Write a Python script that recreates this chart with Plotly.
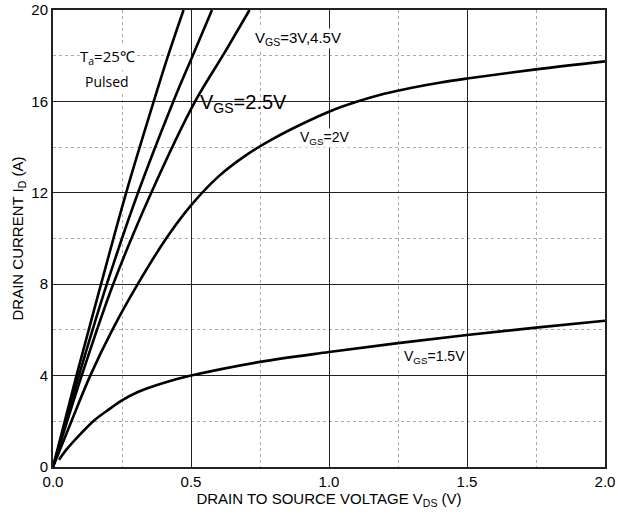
import plotly.graph_objects as go

# ---- data ----
vgs45_x = [0, 0.085, 0.174, 0.265, 0.365, 0.417, 0.473]
vgs45_y = [0, 4, 8, 12, 16, 18, 20]

vgs3_x = [0, 0.094, 0.195, 0.308, 0.436, 0.506, 0.576]
vgs3_y = [0, 4, 8, 12, 16, 18, 20]

vgs25_x = [0, 0.104, 0.218, 0.356, 0.515, 0.615, 0.712]
vgs25_y = [0, 4, 8, 12, 16, 18, 20]

vgs2_x = [0, 0.07, 0.135, 0.215, 0.307, 0.41, 0.5, 0.6, 0.7, 0.8, 0.9, 1.0, 1.1, 1.2, 1.3, 1.4, 1.5, 1.75, 2.0]
vgs2_y = [0, 2.1, 4, 6, 8, 10, 11.45, 12.72, 13.65, 14.38, 15.0, 15.55, 15.98, 16.33, 16.6, 16.82, 17.0, 17.4, 17.75]

vgs15_x = [0.022, 0.05, 0.1, 0.15, 0.2, 0.25, 0.3, 0.35, 0.4, 0.5, 0.75, 1.0, 1.25, 1.5, 1.75, 2.0]
vgs15_y = [0.32, 0.78, 1.45, 2.05, 2.5, 2.92, 3.24, 3.48, 3.68, 4.0, 4.6, 5.03, 5.42, 5.78, 6.1, 6.4]

x_ticks = [0.0, 0.5, 1.0, 1.5, 2.0]
x_tick_labels = ["0.0", "0.5", "1.0", "1.5", "2.0"]
y_ticks = [0, 4, 8, 12, 16, 20]
y_tick_labels = ["0", "4", "8", "12", "16", "20"]

fig = go.Figure()
for xs, ys in [(vgs45_x, vgs45_y), (vgs3_x, vgs3_y), (vgs25_x, vgs25_y),
               (vgs2_x, vgs2_y), (vgs15_x, vgs15_y)]:
    fig.add_trace(go.Scatter(x=xs, y=ys, mode="lines",
                             line=dict(color="black", width=2.6, shape="spline", smoothing=1.0),
                             showlegend=False, hoverinfo="skip"))

base_font = dict(family="Liberation Sans, Arial, sans-serif", color="black")

def ann(text, x, y, size, bg="white", family=None):
    f = dict(base_font, size=size)
    if family:
        f["family"] = family
    fig.add_annotation(text=text, x=x, y=y, xref="x", yref="y", showarrow=False,
                       font=f, bgcolor=bg, borderpad=0)

ann("T<sub>a</sub>=25℃", 0.196, 17.93, 15, family="Open Sans, sans-serif")
ann("Pulsed", 0.196, 16.88, 14, family="Open Sans, sans-serif")
ann("V<sub>GS</sub>=3V,4.5V", 0.886, 18.76, 15)
ann("V<sub>GS</sub>=2.5V", 0.69, 15.9, 20, bg="rgba(0,0,0,0)")
ann("V<sub>GS</sub>=2V", 0.985, 14.39, 14)
ann("V<sub>GS</sub>=1.5V", 1.382, 4.81, 14)

axis_common = dict(
    showline=True, mirror=True, linecolor="#222", linewidth=2,
    showgrid=True, gridcolor="#222", gridwidth=1.3,
    zeroline=False, ticks="", tickfont=dict(base_font, size=15),
    automargin=False,
)

fig.update_xaxes(range=[0, 2.0], tickvals=x_ticks, ticktext=x_tick_labels,
                 minor=dict(tickvals=[0.25, 0.75, 1.25, 1.75], showgrid=True,
                            gridcolor="#aaaaaa", griddash="dot", gridwidth=1),
                 title=dict(text="DRAIN TO SOURCE VOLTAGE V<sub>DS</sub> (V)",
                            font=dict(base_font, size=15), standoff=2),
                 **axis_common)
fig.update_yaxes(range=[0, 20], tickvals=y_ticks, ticktext=y_tick_labels,
                 minor=dict(tickvals=[2, 6, 10, 14, 18], showgrid=True,
                            gridcolor="#aaaaaa", griddash="dot", gridwidth=1),
                 title=dict(text="DRAIN CURRENT I<sub>D</sub> (A)",
                            font=dict(base_font, size=15), standoff=4),
                 **axis_common)

fig.update_layout(width=618, height=517, margin=dict(l=53, r=13, t=10, b=50),
                  plot_bgcolor="white", paper_bgcolor="white")

fig.write_html("out.html", config={"displayModeBar": False},
               post_script="document.body.style.margin='0';")
